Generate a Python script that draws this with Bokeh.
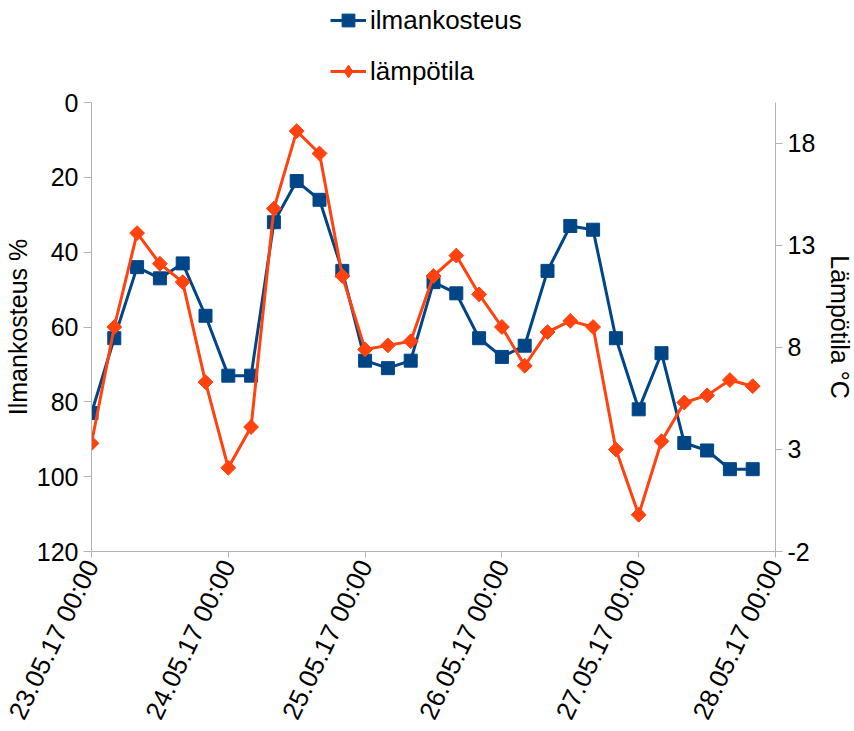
import math
import pandas as pd
from bokeh.plotting import figure
from bokeh.layouts import column
from bokeh.models import (Range1d, LinearAxis, DatetimeAxis, FixedTicker,
                          DatetimeTickFormatter, Legend, LegendItem)
from bokeh.embed import file_html
from bokeh.resources import INLINE

# Measurements every four hours, 23.05.2017 00:00 onwards
start_time = "2017-05-23 00:00"
step = "4h"
humidity = [83, 63, 44, 47, 43, 57, 73, 73, 32, 21, 26, 45, 69, 71, 69,
            48, 51, 63, 68, 65, 45, 33, 34, 63, 82, 67, 91, 93, 98, 98]
temperature = [3.3, 9.0, 13.6, 12.1, 11.2, 6.3, 2.1, 4.1, 14.8, 18.6, 17.5, 11.5,
               7.9, 8.1, 8.3, 11.5, 12.5, 10.6, 9.0, 7.1, 8.75, 9.3, 9.0, 3.0,
               -0.2, 3.4, 5.3, 5.65, 6.4, 6.1]
times = pd.date_range(start_time, periods=len(humidity), freq=step)

day_ticks = pd.date_range("2017-05-23", "2017-05-28", freq="D")
humidity_ticks = [0, 20, 40, 60, 80, 100, 120]
temperature_ticks = [-2, 3, 8, 13, 18]
series_names = ["ilmankosteus", "lämpötila"]

BLUE = "#004586"
ORANGE = "#ff420e"
AXIS_GREY = "#b3b3b3"
FONT = "Liberation Sans"
FS = "25px"

day_ms = [t.value // 10**6 for t in day_ticks]


def add_series(fig, visible=True, legend_markers=False):
    """Draw both series on fig; returns (humidity renderers, temperature renderers)."""
    hl = fig.line(times, humidity, line_color=BLUE, line_width=3, visible=visible)
    hp = fig.scatter(times, humidity, marker="square", size=13,
                     fill_color=BLUE, line_color=BLUE, visible=visible)
    tl = fig.line(times, temperature, line_color=ORANGE, line_width=3,
                  y_range_name="temp", visible=visible)
    if legend_markers:
        # legend swatches ignore marker angle, so use the diamond marker there
        tp = fig.scatter(times, temperature, marker="diamond", size=17,
                         fill_color=ORANGE, line_color=ORANGE,
                         y_range_name="temp", visible=visible)
    else:
        # diamond = square turned by 45 degrees
        tp = fig.scatter(times, temperature, marker="square", size=10.5,
                         angle=math.pi / 4,
                         fill_color=ORANGE, line_color=ORANGE,
                         y_range_name="temp", visible=visible)
    return [hl, hp], [tl, tp]


# ---- main chart ----
p = figure(x_axis_type=None, y_axis_type=None,
           frame_width=684, frame_height=449,
           min_border_left=91, min_border_right=79,
           min_border_top=14, min_border_bottom=180,
           x_range=Range1d(day_ms[0], day_ms[-1]),
           y_range=Range1d(120, 0),
           output_backend="svg", toolbar_location=None)
p.extra_y_ranges = {"temp": Range1d(-2, 20)}
p.outline_line_color = None

fmt = DatetimeTickFormatter(
    milliseconds="%d.%m.%y %H:%M", seconds="%d.%m.%y %H:%M",
    minsec="%d.%m.%y %H:%M", minutes="%d.%m.%y %H:%M",
    hourmin="%d.%m.%y %H:%M", hours="%d.%m.%y %H:%M",
    days="%d.%m.%y %H:%M", months="%d.%m.%y %H:%M", years="%d.%m.%y %H:%M")


def style_axis(ax, tick_out):
    ax.axis_line_color = AXIS_GREY
    ax.major_tick_line_color = AXIS_GREY
    ax.major_tick_out = tick_out
    ax.major_tick_in = 0
    ax.minor_tick_line_color = None
    ax.major_label_text_font = FONT
    ax.major_label_text_font_size = FS
    ax.major_label_text_color = "black"
    ax.axis_label_text_font = FONT
    ax.axis_label_text_font_size = FS
    ax.axis_label_text_font_style = "normal"
    ax.axis_label_text_color = "black"


xaxis = DatetimeAxis(ticker=FixedTicker(ticks=day_ms), formatter=fmt)
style_axis(xaxis, 6)
xaxis.major_label_text_font_size = "26px"
xaxis.major_label_orientation = 1.12
xaxis.major_label_standoff = 4
p.add_layout(xaxis, "below")

yleft = LinearAxis(ticker=FixedTicker(ticks=humidity_ticks),
                   axis_label="Ilmankosteus %")
style_axis(yleft, 8)
yleft.major_label_standoff = 5
yleft.axis_label_standoff = 2
p.add_layout(yleft, "left")

yright = LinearAxis(y_range_name="temp",
                    ticker=FixedTicker(ticks=temperature_ticks),
                    axis_label="Lämpötila °C")
style_axis(yright, 7)
yright.major_label_standoff = 5
yright.axis_label_standoff = 8
yright.major_label_overrides = {-2: "-2"}
p.add_layout(yright, "right")

p.ygrid.ticker = FixedTicker(ticks=humidity_ticks)
p.ygrid.grid_line_color = AXIS_GREY
p.xgrid.grid_line_color = None

add_series(p)

# ---- legend strip above the chart ----
lg = figure(width=854, height=88, min_border=0,
            x_range=Range1d(day_ms[0], day_ms[-1]), y_range=Range1d(120, 0),
            output_backend="svg", toolbar_location=None)
lg.extra_y_ranges = {"temp": Range1d(-2, 20)}
lg.axis.visible = False
lg.grid.visible = False
lg.outline_line_color = None
h_rs, t_rs = add_series(lg, visible=False, legend_markers=True)

legend = Legend(items=[
    LegendItem(label=series_names[0], renderers=h_rs),
    LegendItem(label=series_names[1], renderers=t_rs),
], location=(239, 1), orientation="vertical")
legend.border_line_color = None
legend.background_fill_alpha = 0
legend.inactive_fill_alpha = 0
legend.padding = 0
legend.margin = 0
legend.spacing = 19
legend.glyph_width = 36
legend.glyph_height = 32
legend.label_standoff = 4
legend.label_text_font = FONT
legend.label_text_font_size = "26px"
legend.label_text_color = "black"
lg.add_layout(legend, "center")

open("out.html", "w").write(file_html(column(lg, p, spacing=0), INLINE))
